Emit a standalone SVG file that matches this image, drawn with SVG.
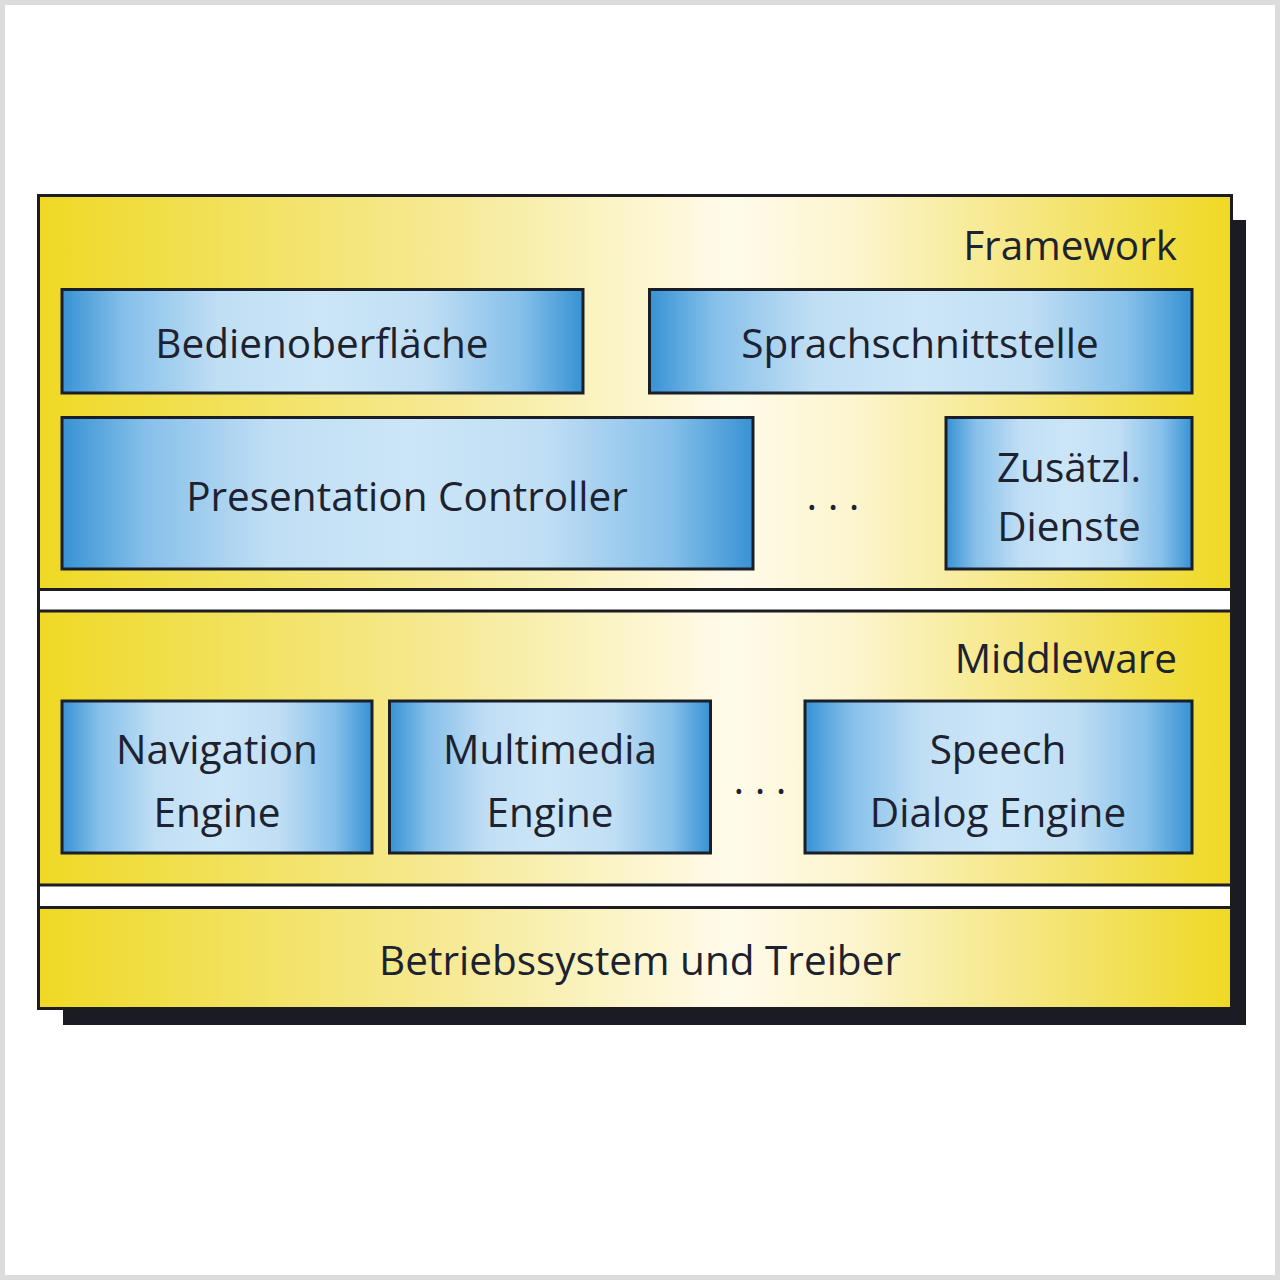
<svg xmlns="http://www.w3.org/2000/svg" width="1280" height="1280" viewBox="0 0 1280 1280">
  <defs>
    <linearGradient id="yellow" gradientUnits="userSpaceOnUse" x1="38" y1="0" x2="1232" y2="0">
      <stop offset="0" stop-color="#efd923"/>
      <stop offset="0.12" stop-color="#f1df4e"/>
      <stop offset="0.35" stop-color="#f6ea97"/>
      <stop offset="0.58" stop-color="#fffbea"/>
      <stop offset="0.68" stop-color="#fcf5cf"/>
      <stop offset="0.88" stop-color="#f3e266"/>
      <stop offset="1" stop-color="#efd923"/>
    </linearGradient>
    <linearGradient id="blue" x1="0" y1="0" x2="1" y2="0">
      <stop offset="0" stop-color="#3792d4"/>
      <stop offset="0.12" stop-color="#86c0ea"/>
      <stop offset="0.3" stop-color="#c0def4"/>
      <stop offset="0.5" stop-color="#cce6f7"/>
      <stop offset="0.7" stop-color="#c0def4"/>
      <stop offset="0.88" stop-color="#86c0ea"/>
      <stop offset="1" stop-color="#3792d4"/>
    </linearGradient>
    <style>
      .layer { fill: url(#yellow); stroke: #1c1c22; stroke-width: 3; }
      .box { fill: url(#blue); stroke: #1a1e28; stroke-width: 3; }
      .t { font-family: "Open Sans", "Noto Sans", sans-serif; font-size: 40.5px; fill: #1d2230; }
      .c { text-anchor: middle; }
      .r { text-anchor: end; }
    </style>
  </defs>

  <rect x="0" y="0" width="1280" height="1280" fill="#ffffff"/>
  <rect x="2.5" y="2.5" width="1275" height="1275" fill="none" stroke="#dcdcdc" stroke-width="5"/>

  <!-- shadow -->
  <rect x="63" y="220" width="1183" height="805" fill="#1b1b23"/>

  <!-- outer -->
  <rect x="38.5" y="195.5" width="1193" height="813" fill="#ffffff" stroke="#1c1c22" stroke-width="3"/>

  <g id="framework">
    <rect class="layer" x="38.5" y="195.5" width="1193" height="394"/>
    <text class="t r" x="1177" y="260">Framework</text>
  </g>

  <g id="middleware">
    <rect class="layer" x="38.5" y="611" width="1193" height="274"/>
    <text class="t r" x="1177" y="673">Middleware</text>
  </g>

  <g id="betriebssystem">
    <rect class="layer" x="38.5" y="907.5" width="1193" height="101"/>
    <text class="t c" x="640" y="975">Betriebssystem und Treiber</text>
  </g>

  <g id="bedienoberflaeche">
    <rect class="box" x="62" y="289.5" width="521" height="103.5"/>
    <text class="t c" x="322" y="358">Bedienoberfläche</text>
  </g>

  <g id="sprachschnittstelle">
    <rect class="box" x="649.5" y="289.5" width="542.5" height="103.5"/>
    <text class="t c" x="920" y="358">Sprachschnittstelle</text>
  </g>

  <g id="presentation-controller">
    <rect class="box" x="62" y="417.5" width="691" height="151.5"/>
    <text class="t c" x="407" y="511">Presentation Controller</text>
  </g>

  <g id="dots-framework">
    <text class="t c" x="833" y="510">. . .</text>
  </g>

  <g id="zusaetzl-dienste">
    <rect class="box" x="946" y="417.5" width="246" height="151.5"/>
    <text class="t c" x="1069" y="482">Zusätzl.</text>
    <text class="t c" x="1069" y="541">Dienste</text>
  </g>

  <g id="navigation-engine">
    <rect class="box" x="62" y="701" width="310" height="152"/>
    <text class="t c" x="217" y="764">Navigation</text>
    <text class="t c" x="217" y="827">Engine</text>
  </g>

  <g id="multimedia-engine">
    <rect class="box" x="389.5" y="701" width="321" height="152"/>
    <text class="t c" x="550" y="764">Multimedia</text>
    <text class="t c" x="550" y="827">Engine</text>
  </g>

  <g id="dots-middleware">
    <text class="t c" x="760" y="794">. . .</text>
  </g>

  <g id="speech-dialog-engine">
    <rect class="box" x="805" y="701" width="387" height="152"/>
    <text class="t c" x="998" y="764">Speech</text>
    <text class="t c" x="998" y="827">Dialog Engine</text>
  </g>

  <g id="connectors"></g>
</svg>
